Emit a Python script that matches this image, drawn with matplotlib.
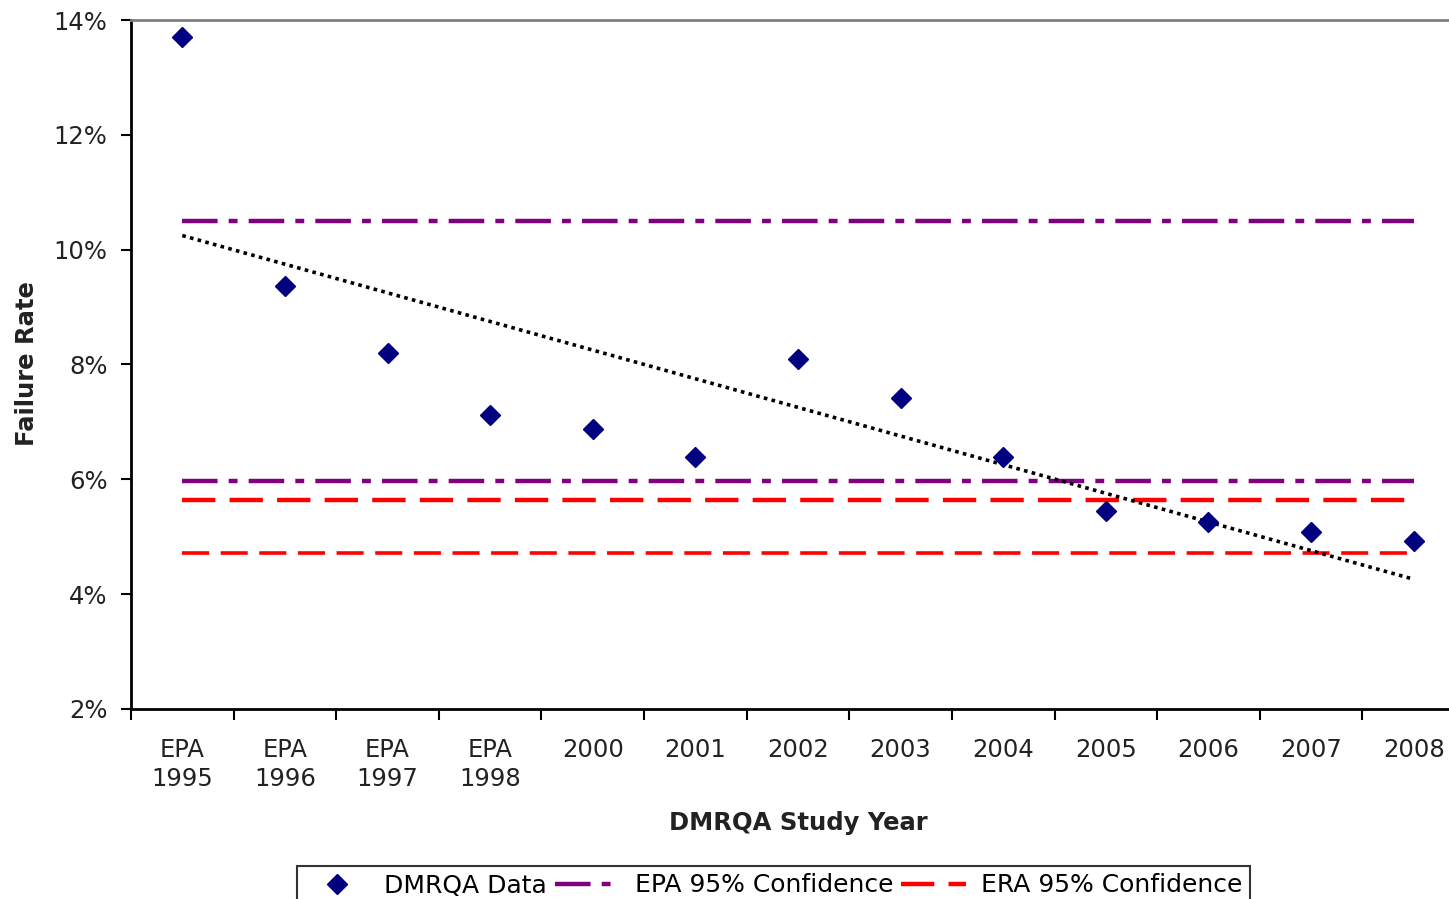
import numpy as np
import matplotlib.pyplot as plt
from matplotlib.lines import Line2D

years = ['EPA\n1995', 'EPA\n1996', 'EPA\n1997', 'EPA\n1998', '2000', '2001', '2002',
         '2003', '2004', '2005', '2006', '2007', '2008']
failure_rate = [13.70, 9.37, 8.20, 7.12, 6.88, 6.39, 8.10, 7.42, 6.39, 5.45, 5.26, 5.08, 4.93]
epa_upper = 10.50
epa_lower = 5.97
era_upper = 5.64
era_lower = 4.72

x = np.arange(len(years))
slope, intercept = np.polyfit(x, failure_rate, 1)
trend = slope * x + intercept

plt.rcParams['font.family'] = 'DejaVu Sans'
fig = plt.figure(figsize=(14.49, 8.99), dpi=100)
ax = fig.add_axes([131/1449, 1-709/899, (1465-131)/1449, (709-20)/899])

epa_style = (0, (8, 2.5, 2, 2.5))
era_style = (0, (7.5, 3.2))
purple = '#800080'
red = '#ff0000'

ax.plot(x, [epa_upper]*len(x), color=purple, lw=3.2, linestyle=epa_style)
ax.plot(x, [epa_lower]*len(x), color=purple, lw=3.2, linestyle=epa_style)
ax.plot(x, [era_upper]*len(x), color=red, lw=3.2, linestyle=era_style)
ax.plot(x, [era_lower]*len(x), color=red, lw=2.6, linestyle=era_style)
ax.plot(x, trend, color='black', lw=2.6, linestyle=(0, (1, 1.2)))
ax.plot(x, failure_rate, 'D', color='#000080', markersize=10.5, linestyle='none')

ax.set_xlim(-0.5, 12.5)
ax.set_ylim(2, 14)
ax.set_yticks(np.arange(2, 15, 2))
ax.set_yticklabels(['%d%%' % v for v in np.arange(2, 15, 2)])
ax.set_xticks(x)
ax.set_xticklabels(years, linespacing=1.25)
ax.set_xticks(np.arange(-0.5, 13, 1), minor=True)
ax.tick_params(axis='x', which='major', length=0, pad=21, labelsize=17.5, colors='#222222')
ax.tick_params(axis='x', which='minor', length=8, width=1.5, direction='out')
ax.tick_params(axis='y', length=7, width=1.5, direction='out', pad=10, labelsize=17.5)
for t in ax.get_yticklabels():
    t.set_color('#222222')

ax.spines['left'].set_linewidth(2)
ax.spines['bottom'].set_linewidth(2)
ax.spines['top'].set_color('#808080')
ax.spines['top'].set_linewidth(2)
ax.spines['right'].set_visible(False)

fig.text(27/1449, 1-364/899, 'Failure Rate', rotation=90, ha='center', va='center',
         fontsize=17.5, fontweight='bold', color='#222222')
fig.text(798/1449, 1-823/899, 'DMRQA Study Year', ha='center', va='center',
         fontsize=17.5, fontweight='bold', color='#222222')

handles = [Line2D([], [], marker='D', color='#000080', markersize=10.5, linestyle='none'),
           Line2D([], [], color=purple, lw=3.2, linestyle=epa_style),
           Line2D([], [], color=red, lw=3.2, linestyle=era_style)]
leg = fig.legend(handles, ['DMRQA Data', 'EPA 95% Confidence', 'ERA 95% Confidence'],
                 loc='upper left', bbox_to_anchor=(297/1449, 1-866/899), ncol=3,
                 fontsize=18, frameon=True, fancybox=False, edgecolor='black',
                 handlelength=2.6, handletextpad=0.6, columnspacing=0.3,
                 borderpad=0.3, borderaxespad=0)
leg.get_frame().set_linewidth(1.5)

fig.savefig('out.png', dpi=100)
